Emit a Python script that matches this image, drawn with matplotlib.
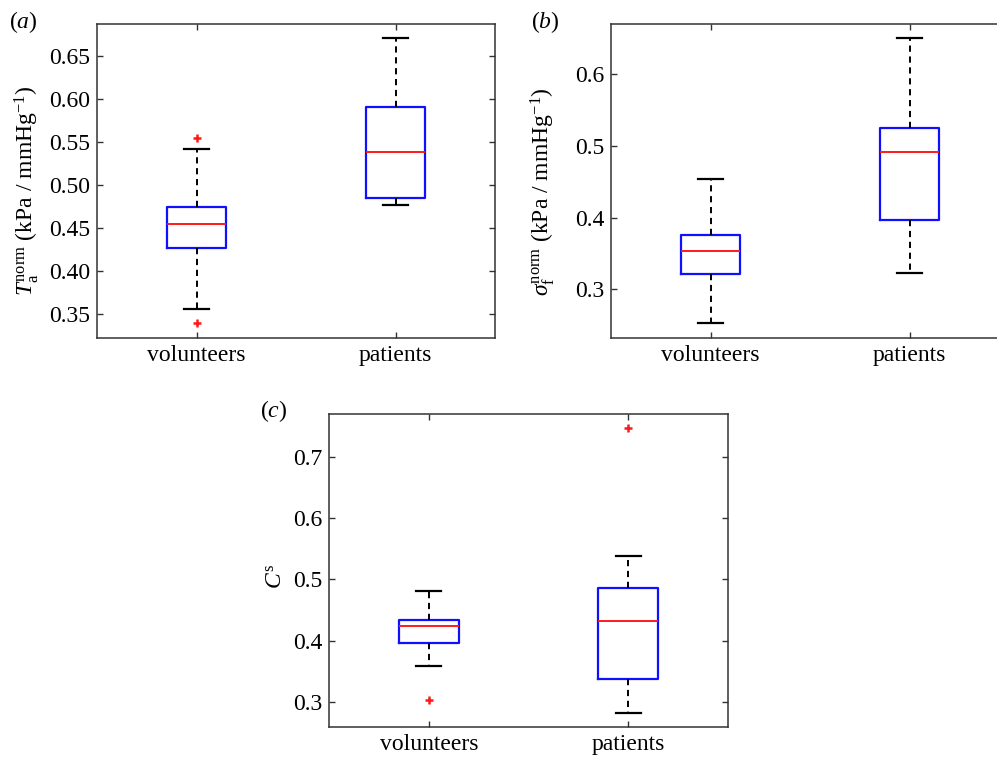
#!/usr/bin/env python3
"""
Box plots of normalised active tension, fibre stress and C^s
for volunteers vs patients (three panels).
"""

import matplotlib
matplotlib.use('Agg')
import matplotlib.pyplot as plt

plt.rcParams['font.family'] = ['Liberation Serif', 'DejaVu Serif']
plt.rcParams['mathtext.fontset'] = 'custom'
plt.rcParams['mathtext.rm'] = 'Liberation Serif'
plt.rcParams['mathtext.it'] = 'Liberation Serif:italic'
plt.rcParams['mathtext.bf'] = 'Liberation Serif:bold'

groups = ['volunteers', 'patients']

# panel (a): T_a^norm  -- [whislo, q1, med, q3, whishi]
ta_vol = [0.3555, 0.4262, 0.4544, 0.4742, 0.5417]
ta_pat = [0.4770, 0.4847, 0.5386, 0.5910, 0.6713]
ta_vol_fliers = [0.3389, 0.5545]
ta_pat_fliers = []

# panel (b): sigma_f^norm
sf_vol = [0.2524, 0.3213, 0.3540, 0.3759, 0.4533]
sf_pat = [0.3223, 0.3960, 0.4910, 0.5250, 0.6510]
sf_vol_fliers = []
sf_pat_fliers = []

# panel (c): C^s
cs_vol = [0.3590, 0.3970, 0.4241, 0.4333, 0.4816]
cs_pat = [0.2833, 0.3385, 0.4322, 0.4859, 0.5379]
cs_vol_fliers = [0.3043]
cs_pat_fliers = [0.7467]

W, H = 997, 758
fig = plt.figure(figsize=(W / 100, H / 100), dpi=100)


def stats(label, five, fliers):
    lo, q1, med, q3, hi = five
    return dict(label=label, whislo=lo, q1=q1, med=med, q3=q3,
                whishi=hi, fliers=fliers)


def panel(rect, data, ylim, yticks, yfmt, ylabel, tag, tag_xy, ylabel_xy):
    ax = fig.add_axes(rect)
    bxp_stats = [stats(g, d, f) for g, (d, f) in zip(groups, data)]
    ax.bxp(bxp_stats, positions=[1, 2], widths=0.3, capwidths=0.125,
           boxprops=dict(color='#1010ff', linewidth=1.6),
           medianprops=dict(color='#ff1a1a', linewidth=1.4),
           whiskerprops=dict(color='black', linewidth=1.4,
                             linestyle=(0, (3.2, 2.4))),
           capprops=dict(color='black', linewidth=1.6),
           flierprops=dict(marker='+', markeredgecolor='#ff1a1a',
                           markersize=6, markeredgewidth=1.8))
    ax.set_xlim(0.5, 2.5)
    ax.set_ylim(*ylim)
    ax.set_yticks(yticks)
    ax.set_yticklabels([yfmt.format(v) for v in yticks])
    ax.set_xticks([1, 2])
    ax.set_xticklabels(groups)
    ax.tick_params(direction='in', length=4, width=1, top=True, right=True,
                   labelsize=17, color='#333333', pad=5)
    for s in ax.spines.values():
        s.set_color('#333333')
        s.set_linewidth(1.1)
    ax.set_ylabel(ylabel, fontsize=17)
    ax.yaxis.set_label_coords(*ylabel_xy)
    fig.text(tag_xy[0] / W, 1 - tag_xy[1] / H, tag, fontsize=17,
             ha='left', va='center')
    return ax


panel([97 / W, 1 - 338 / H, 398 / W, 314 / H],
      [(ta_vol, ta_vol_fliers), (ta_pat, ta_pat_fliers)],
      (0.322, 0.687), [0.35, 0.40, 0.45, 0.50, 0.55, 0.60, 0.65], '{:.2f}',
      r'$T_{\mathrm{a}}^{\mathrm{norm}}$ (kPa / mmHg$^{-1}$)',
      r'($\mathit{a}$)', (9, 22), (-0.14, 0.47))

panel([611 / W, 1 - 338 / H, 398 / W, 314 / H],
      [(sf_vol, sf_vol_fliers), (sf_pat, sf_pat_fliers)],
      (0.232, 0.670), [0.3, 0.4, 0.5, 0.6], '{:.1f}',
      r'$\sigma_{\mathrm{f}}^{\mathrm{norm}}$ (kPa / mmHg$^{-1}$)',
      r'($\mathit{b}$)', (531, 22), (-0.135, 0.465))

panel([329 / W, 1 - 727 / H, 399 / W, 313 / H],
      [(cs_vol, cs_vol_fliers), (cs_pat, cs_pat_fliers)],
      (0.2598, 0.7694), [0.3, 0.4, 0.5, 0.6, 0.7], '{:.1f}',
      r'$C^{\mathrm{s}}$',
      r'($\mathit{c}$)', (260, 411), (-0.105, 0.48))

fig.savefig('out.png', dpi=100)
